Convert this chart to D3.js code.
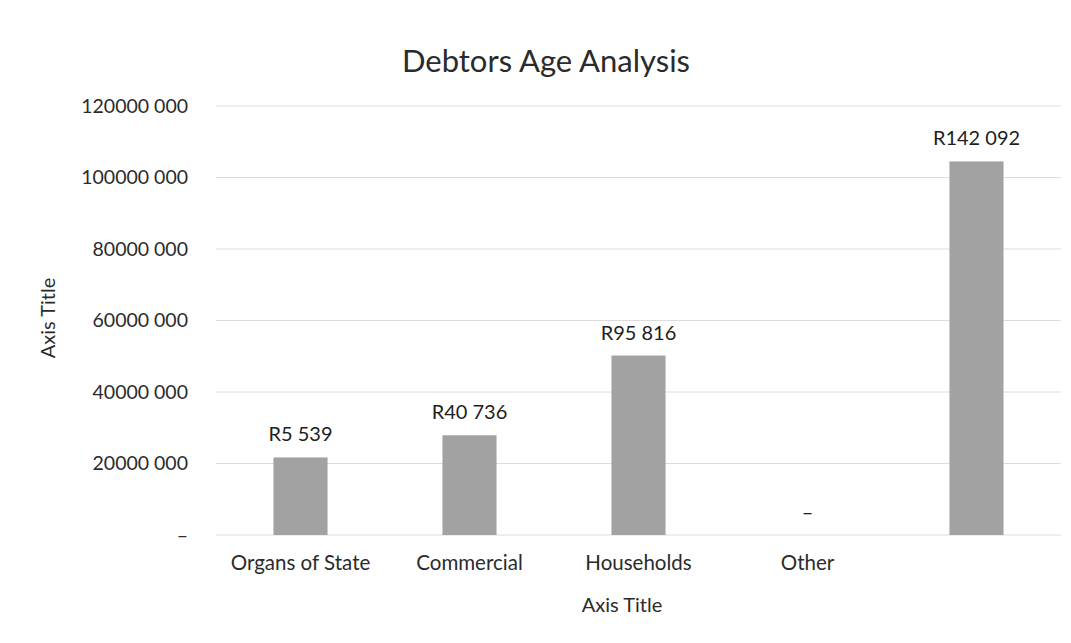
<!DOCTYPE html>
<html>
<head>
<meta charset="utf-8">
<script src="https://cdn.jsdelivr.net/npm/d3@7"></script>
<style>
body{margin:0;background:#fff;}
text{font-family:Lato,"Open Sans",sans-serif;}
</style>
</head>
<body>
<div id="chart-area"></div>
<script>
// data
var categories=["Organs of State","Commercial","Households","Other",""];
var values=[21700000,27900000,50200000,0,104500000];
var valueLabels=["R5 539","R40 736","R95 816","–","R142 092"];
var tickValues=[0,20000000,40000000,60000000,80000000,100000000,120000000];
var tickLabels=["–","20000 000","40000 000","60000 000","80000 000","100000 000","120000 000"];

var W=1071,H=643;
var margin={left:216,right:10,top:106,bottom:108};
var width=W-margin.left-margin.right;
var height=H-margin.top-margin.bottom;

var svg=d3.select("#chart-area").append("svg")
    .attr("width",W)
    .attr("height",H);

var g=svg.append("g")
    .attr("transform","translate("+margin.left+","+margin.top+")");

var x=d3.scaleBand()
    .domain(d3.range(categories.length))
    .range([0,width])
    .paddingInner(0.68)
    .paddingOuter(0.34);

var y=d3.scaleLinear()
    .domain([0,120000000])
    .range([height,0]);

// gridlines
g.append("g")
    .selectAll("line")
    .data(tickValues)
    .enter().append("line")
    .attr("x1",0)
    .attr("x2",width)
    .attr("y1",d=>y(d))
    .attr("y2",d=>y(d))
    .attr("stroke","#dcdcdc")
    .attr("stroke-width",1);

var leftAxis=d3.axisLeft(y)
    .tickValues(tickValues)
    .tickSize(0)
    .tickPadding(28)
    .tickFormat((d,i)=>tickLabels[i]);

var ya=g.append("g").call(leftAxis);
ya.select(".domain").remove();
ya.selectAll("text")
    .attr("font-size","19.5px")
    .attr("fill","#2b2b2b")
    .style("font-family","Lato,'Open Sans',sans-serif");

var bottomAxis=d3.axisBottom(x)
    .tickSize(0)
    .tickPadding(20)
    .tickFormat(i=>categories[i]);

var xa=g.append("g")
    .attr("transform","translate(0,"+height+")")
    .call(bottomAxis);
xa.select(".domain").remove();
xa.selectAll("text")
    .attr("font-size","20.5px")
    .attr("fill","#2b2b2b")
    .style("font-family","Lato,'Open Sans',sans-serif");

// bars
g.selectAll("rect.bar")
    .data(values)
    .enter().append("rect")
    .attr("class","bar")
    .attr("x",(d,i)=>x(i))
    .attr("y",d=>y(d))
    .attr("width",x.bandwidth())
    .attr("height",d=>height-y(d))
    .attr("fill","#a2a2a2");

// data labels
g.selectAll("text.val")
    .data(values)
    .enter().append("text")
    .attr("class","val")
    .attr("x",(d,i)=>x(i)+x.bandwidth()/2)
    .attr("y",d=>y(d)-16)
    .attr("text-anchor","middle")
    .attr("font-size","20px")
    .attr("fill","#1e1e1e")
    .text((d,i)=>valueLabels[i]);

// title
svg.append("text")
    .attr("x",546)
    .attr("y",72)
    .attr("text-anchor","middle")
    .attr("font-size","31px")
    .attr("fill","#2b2b2b")
    .text("Debtors Age Analysis");

// axis titles
svg.append("text")
    .attr("x",622)
    .attr("y",612)
    .attr("text-anchor","middle")
    .attr("font-size","20px")
    .attr("fill","#2b2b2b")
    .text("Axis Title");

svg.append("text")
    .attr("x",-318)
    .attr("y",55)
    .attr("transform","rotate(-90)")
    .attr("text-anchor","middle")
    .attr("font-size","20px")
    .attr("fill","#2b2b2b")
    .text("Axis Title");
</script>
</body>
</html>
